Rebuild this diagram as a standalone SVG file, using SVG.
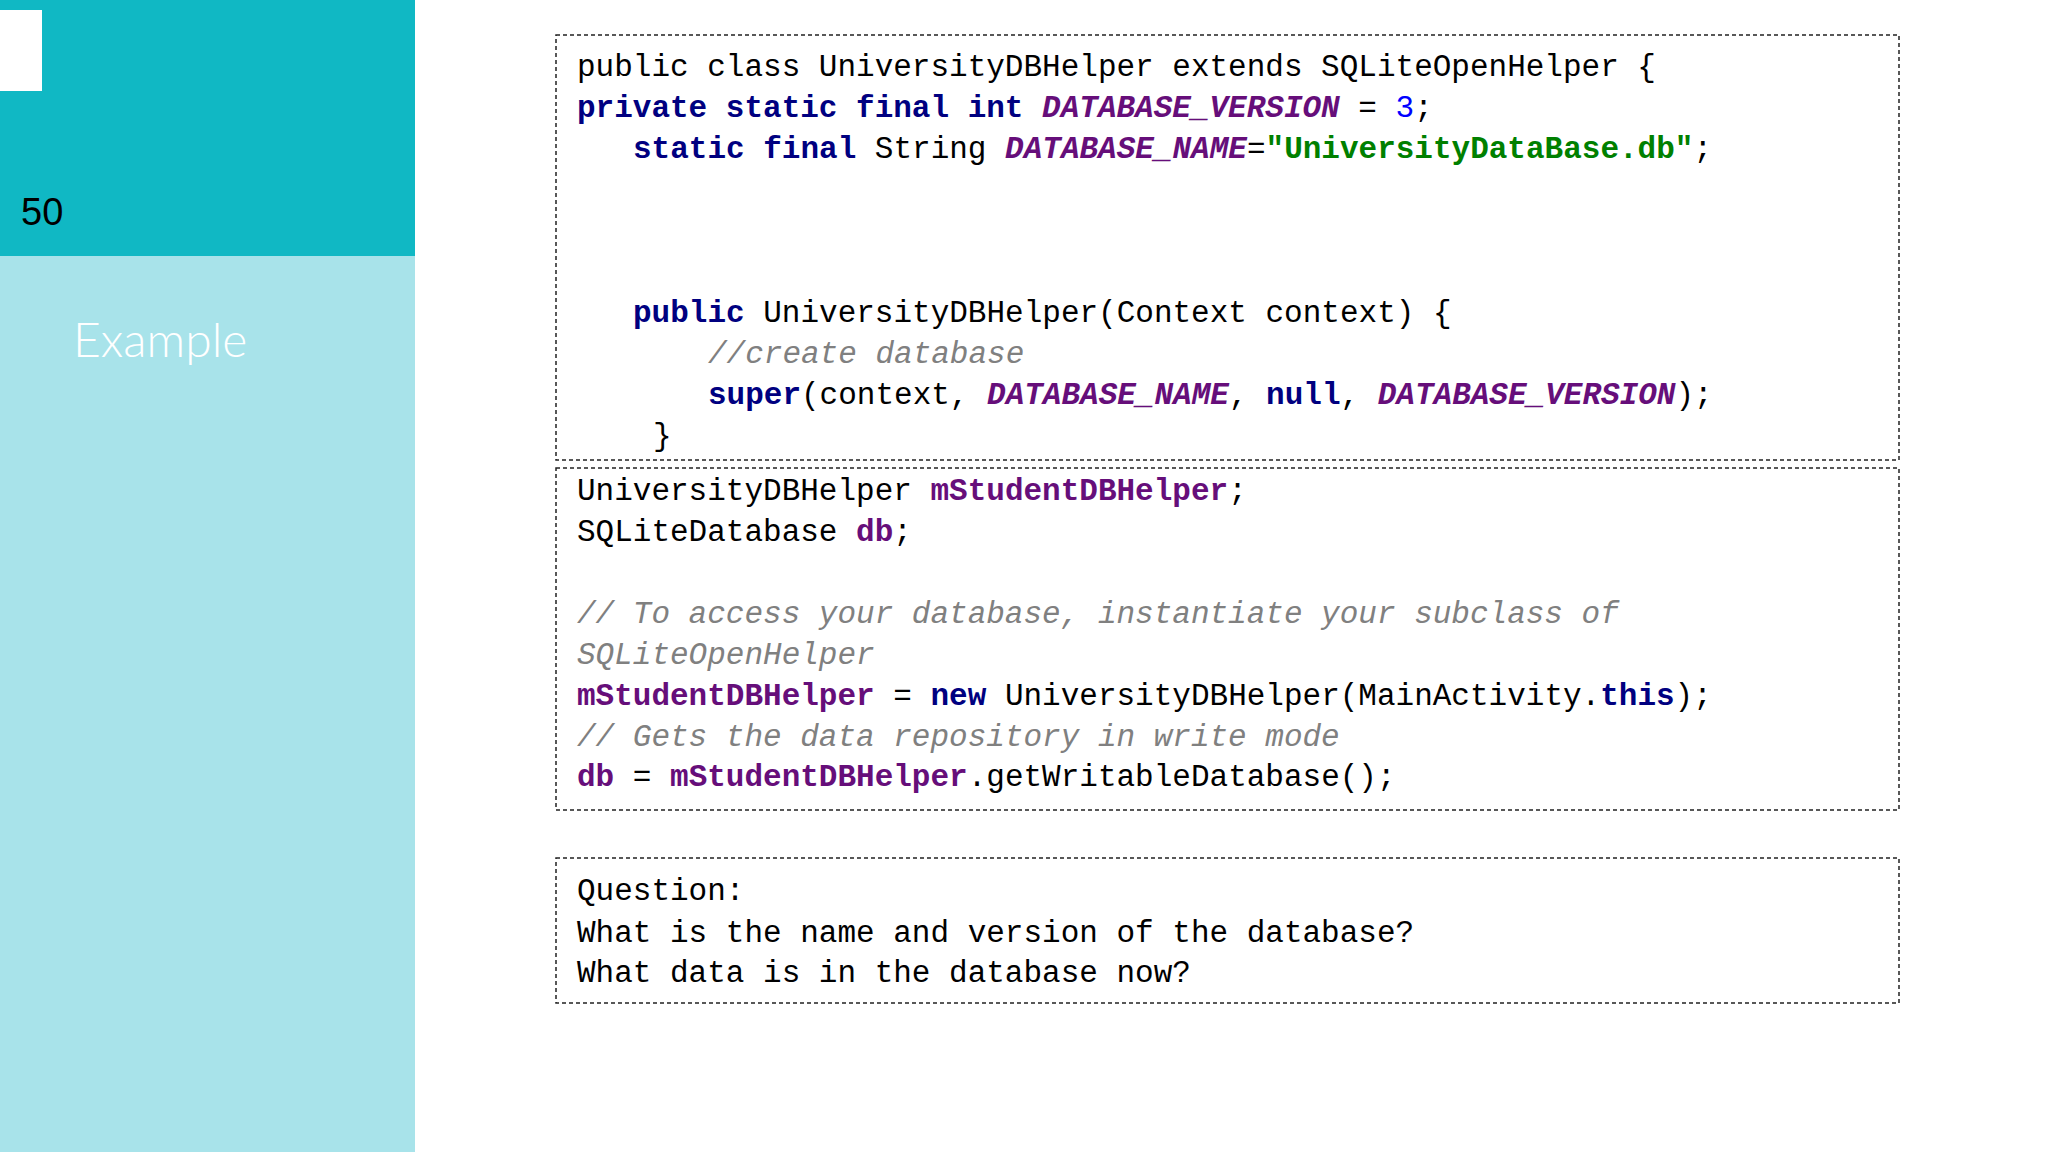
<svg xmlns="http://www.w3.org/2000/svg" width="2048" height="1152" viewBox="0 0 2048 1152">
<style>
.c{font-family:"Liberation Mono","DejaVu Sans Mono",monospace;font-size:31px;fill:#000;white-space:pre}
.k{fill:#000080;font-weight:bold}
.f{fill:#660E7A;font-weight:bold;font-style:italic}
.fb{fill:#660E7A;font-weight:bold}
.s{fill:#008000;font-weight:bold}
.n{fill:#0000FF}
.m{fill:#808080;font-style:italic}
.box{fill:none;stroke:#222;stroke-width:1.5;stroke-dasharray:4 3}
</style>
<rect width="2048" height="1152" fill="#fff"/>
<g id="sidebar">
<rect x="0" y="0" width="415" height="1152" fill="#A8E3EA"/>
<rect x="0" y="0" width="415" height="256" fill="#10B8C4"/>
<rect x="0" y="10" width="42" height="81" fill="#fff"/>
<text x="21" y="225" font-family="Liberation Sans,sans-serif" font-size="38" fill="#000">50</text>
<text x="73" y="357" font-family="Lato,Open Sans,sans-serif" font-size="48" font-weight="300" fill="#fff">Example</text>
</g>
<g id="code1">
<rect class="box" x="556" y="35" width="1343" height="425"/>
<text class="c" xml:space="preserve"><tspan x="577" y="76">public class UniversityDBHelper extends SQLiteOpenHelper {</tspan><tspan x="577" y="117"><tspan class="k">private static final int </tspan><tspan class="f">DATABASE_VERSION</tspan> = <tspan class="n">3</tspan>;</tspan><tspan x="633" y="158"><tspan class="k">static final </tspan>String <tspan class="f">DATABASE_NAME</tspan>=<tspan class="s">"UniversityDataBase.db"</tspan>;</tspan><tspan x="633" y="322"><tspan class="k">public </tspan>UniversityDBHelper(Context context) {</tspan><tspan x="708" y="363" class="m">//create database</tspan><tspan x="708" y="404"><tspan class="k">super</tspan>(context, <tspan class="f">DATABASE_NAME</tspan>, <tspan class="k">null</tspan>, <tspan class="f">DATABASE_VERSION</tspan>);</tspan><tspan x="653" y="445">}</tspan></text>
</g>
<g id="code2">
<rect class="box" x="556" y="468" width="1343" height="342"/>
<text class="c" xml:space="preserve"><tspan x="577" y="500">UniversityDBHelper <tspan class="fb">mStudentDBHelper</tspan>;</tspan><tspan x="577" y="541">SQLiteDatabase <tspan class="fb">db</tspan>;</tspan><tspan x="577" y="623" class="m">// To access your database, instantiate your subclass of</tspan><tspan x="577" y="664" class="m">SQLiteOpenHelper</tspan><tspan x="577" y="705"><tspan class="fb">mStudentDBHelper</tspan> = <tspan class="k">new </tspan>UniversityDBHelper(MainActivity.<tspan class="k">this</tspan>);</tspan><tspan x="577" y="746" class="m">// Gets the data repository in write mode</tspan><tspan x="577" y="786"><tspan class="fb">db</tspan> = <tspan class="fb">mStudentDBHelper</tspan>.getWritableDatabase();</tspan></text>
</g>
<g id="question">
<rect class="box" x="556" y="858" width="1343" height="145"/>
<text class="c" xml:space="preserve"><tspan x="577" y="900">Question:</tspan><tspan x="577" y="942">What is the name and version of the database?</tspan><tspan x="577" y="982">What data is in the database now?</tspan></text>
</g>
</svg>
